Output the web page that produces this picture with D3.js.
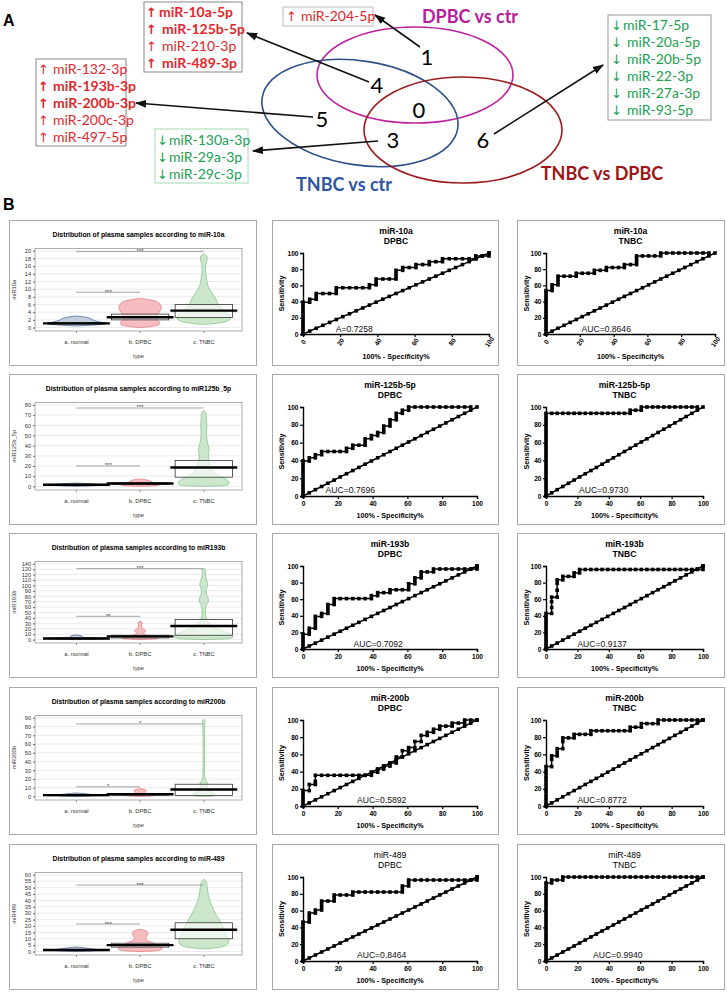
<!DOCTYPE html>
<html>
<head>
<meta charset="utf-8">
<script src="https://cdn.jsdelivr.net/npm/d3@7"></script>
<style>
  body { margin: 0; background: #fff; }
  svg { display: block; }
</style>
</head>
<body>
<svg id="fig"></svg>
<script>
// ---------------- data: panel A ----------------
const vennSets = ["DPBC vs ctr", "TNBC vs ctr", "TNBC vs DPBC"];
const vennCounts = [1, 4, 5, 0, 3, 6];

const region1Mirs = ["miR-204-5p"];
const region1Bold = [false];
const region4Mirs = ["miR-10a-5p", "miR-125b-5p", "miR-210-3p", "miR-489-3p"];
const region4Bold = [true, true, false, true];
const region5Mirs = ["miR-132-3p", "miR-193b-3p", "miR-200b-3p", "miR-200c-3p", "miR-497-5p"];
const region5Bold = [false, true, true, false, false];
const region3Mirs = ["miR-130a-3p", "miR-29a-3p", "miR-29c-3p"];
const region6Mirs = ["miR-17-5p", "miR-20a-5p", "miR-20b-5p", "miR-22-3p", "miR-27a-3p", "miR-93-5p"];

// ---------------- data: panel B, pirate plots ----------------
const groups = ["a. normal", "b. DPBC", "c. TNBC"];
const plotMirs = ["miR-10a", "miR125b_5p", "miR193b", "miR200b", "miR-489"];
const yLabels = ["miR10a", "miR125b_5p", "miR193b", "miR200b", "miR489"];
const yTickMax = [20, 80, 140, 90, 60];
const yTickStep = [2, 10, 10, 10, 5];

const groupMeans = [[1.1, 2.7, 4.4], [1.5, 2.8, 18.5], [2, 6, 25], [1.5, 2.5, 8], [1.2, 5, 17]];
const bandLow = [[0.9, 2.0, 2.6], [1.0, 2.0, 9], [1.5, 3, 8], [1.0, 1.5, 1], [0.9, 3.5, 10]];
const bandHigh = [[1.3, 3.5, 6.0], [2.0, 3.5, 25.5], [3, 8, 37], [2.0, 3, 14], [1.5, 6.5, 22.5]];

// significance bars: [normal vs DPBC, normal vs TNBC]
const sigLevel = [[9.2, 19.8], [20, 77], [43, 131], [11, 83], [21.5, 52]];
const sigStars = [["***", "***"], ["***", "***"], ["**", "***"], ["*", "*"], ["***", "***"]];

// bean outlines: [value, relative half width]
const bean10a = [
  [[0.4, 0], [0.7, 0.7], [1.0, 1.0], [1.4, 0.75], [1.9, 0.5], [2.4, 0.45], [2.8, 0.25], [3.0, 0]],
  [[0, 0], [0.3, 0.45], [0.8, 0.65], [1.5, 0.6], [2.5, 0.5], [3.5, 0.55], [4.5, 0.65], [5.5, 0.68], [6.5, 0.6], [7.2, 0.4], [7.6, 0]],
  [[0.8, 0], [1.2, 0.6], [2, 0.85], [3, 0.85], [4, 0.7], [5, 0.55], [6, 0.45], [7, 0.4], [8, 0.35], [9, 0.25], [10, 0.18], [11, 0.12], [12, 0.1], [13, 0.08], [14, 0.06], [15, 0.05], [16, 0.05], [17, 0.08], [18, 0.12], [18.8, 0.1], [19.2, 0]]
];
const bean125b = [
  [[0, 0], [0.5, 0.6], [1.2, 0.85], [2, 0.7], [2.8, 0.35], [3.2, 0]],
  [[0, 0], [0.5, 0.55], [1.5, 0.65], [2.5, 0.55], [3.5, 0.4], [4.5, 0.35], [5.5, 0.3], [6.5, 0.2], [7.2, 0]],
  [[0, 0], [0.5, 0.7], [2, 0.8], [4, 0.8], [6, 0.75], [8, 0.65], [10, 0.5], [12, 0.4], [15, 0.3], [18, 0.22], [22, 0.18], [26, 0.15], [30, 0.14], [34, 0.16], [37, 0.17], [40, 0.14], [45, 0.1], [50, 0.08], [55, 0.09], [60, 0.1], [65, 0.08], [70, 0.08], [73, 0.06], [74.5, 0]]
];
const bean193b = [
  [[0, 0], [1, 0.6], [2, 0.8], [3, 0.5], [4, 0.2], [5, 0.15], [6.5, 0.2], [7.5, 0.15], [8.5, 0]],
  [[0, 0], [1, 0.5], [2.5, 0.6], [4, 0.5], [6, 0.35], [8, 0.22], [10, 0.12], [12, 0.1], [14, 0.15], [16, 0.18], [18, 0.15], [20, 0.08], [24, 0.05], [28, 0.05], [31, 0.06], [33, 0.05], [34, 0]],
  [[0, 0], [1, 0.7], [3, 0.9], [6, 0.95], [10, 0.85], [15, 0.65], [20, 0.45], [25, 0.3], [30, 0.18], [35, 0.1], [40, 0.06], [50, 0.05], [60, 0.06], [66, 0.1], [72, 0.16], [76, 0.15], [82, 0.08], [90, 0.06], [96, 0.1], [102, 0.14], [108, 0.1], [115, 0.05], [125, 0.05], [130, 0.07], [131, 0]]
];
const bean200b = [
  [[0, 0], [0.5, 0.5], [1.5, 0.7], [2.5, 0.4], [3.5, 0.2], [4, 0]],
  [[0, 0], [0.5, 0.4], [1.5, 0.5], [2.5, 0.35], [3.5, 0.15], [4.5, 0.12], [5.5, 0.18], [6.5, 0.2], [7.5, 0.18], [8.5, 0.1], [9, 0]],
  [[0, 0], [0.5, 0.3], [2, 0.35], [4, 0.3], [7, 0.18], [10, 0.1], [13, 0.1], [15, 0.13], [17, 0.1], [20, 0.03], [30, 0.02], [80, 0.02], [85, 0.04], [87, 0.06], [88, 0]]
];
const bean489 = [
  [[0, 0], [0.5, 0.6], [1.2, 0.85], [2, 0.5], [3, 0.25], [3.6, 0]],
  [[0, 0], [0.5, 0.55], [1.5, 0.68], [3, 0.7], [4.5, 0.65], [6, 0.5], [7.5, 0.32], [9, 0.2], [10.5, 0.17], [12, 0.2], [13.5, 0.25], [15, 0.25], [16.5, 0.17], [17.5, 0]],
  [[2, 0], [3, 0.5], [5, 0.75], [8, 0.8], [11, 0.75], [14, 0.7], [17, 0.65], [20, 0.6], [24, 0.5], [28, 0.4], [32, 0.32], [36, 0.25], [40, 0.18], [44, 0.14], [48, 0.12], [52, 0.1], [55, 0.08], [56.5, 0]]
];
const beans = [bean10a, bean125b, bean193b, bean200b, bean489];

// ---------------- data: panel B, ROC curves ----------------
const rocMirs = ["miR-10a", "miR-125b-5p", "miR-193b", "miR-200b", "miR-489"];
const rocGroups = ["DPBC", "TNBC"];
const aucLabels = [["A=0.7258", "AUC=0.8646"], ["AUC=0.7696", "AUC=0.9730"], ["AUC=0.7092", "AUC=0.9137"],
                   ["AUC=0.5892", "AUC=0.8772"], ["AUC=0.8464", "AUC=0.9940"]];
const rocTicks = [0, 20, 40, 60, 80, 100];

// line of identity markers (100% - specificity %)
const diagPct = [0, 3.6, 7.1, 10.7, 14.3, 17.9, 21.4, 25, 28.6, 32.1, 35.7, 39.3, 42.9, 46.4, 50,
                 53.6, 57.1, 60.7, 64.3, 67.9, 71.4, 75, 78.6, 82.1, 85.7, 89.3, 92.9, 96.4, 100];

// each row: [100% - specificity, sensitivity values at that x ...]
const roc10aDPBC = [
  [0, 0, 3.6, 7.1, 10.7, 14.3, 17.9, 21.4, 25, 28.6, 32.1, 35.7, 39.3],
  [3.6, 39.3, 42.9], [7.1, 42.9, 46.4, 50], [10.7, 50], [14.3, 50], [17.9, 50, 53.6, 57.1],
  [21.4, 57.1], [25, 57.1], [28.6, 57.1], [32.1, 57.1], [35.7, 57.1, 60.7], [39.3, 60.7, 64.3, 67.9],
  [42.9, 67.9], [46.4, 67.9], [50, 67.9, 71.4, 75, 78.6], [53.6, 78.6, 82.1], [57.1, 82.1],
  [60.7, 82.1, 85.7], [64.3, 85.7], [67.9, 85.7, 89.3], [71.4, 89.3], [75, 89.3, 92.9], [78.6, 92.9],
  [82.1, 92.9], [85.7, 92.9], [89.3, 92.9], [92.9, 92.9, 96.4], [96.4, 96.4], [100, 96.4, 100]
];
const roc10aTNBC = [
  [0, 0, 3.6, 7.1, 10.7, 14.3, 17.9, 21.4, 25, 28.6, 32.1, 35.7, 39.3, 42.9, 46.4, 50, 53.6],
  [3.6, 53.6, 57.1, 60.7], [7.1, 60.7, 64.3, 67.9, 71.4], [10.7, 71.4], [14.3, 71.4], [17.9, 71.4, 75],
  [21.4, 75], [25, 75], [28.6, 75, 78.6], [32.1, 78.6], [35.7, 78.6, 82.1], [39.3, 82.1], [42.9, 82.1],
  [46.4, 82.1, 85.7], [50, 85.7], [53.6, 85.7, 89.3, 92.9, 96.4], [57.1, 96.4], [60.7, 96.4], [64.3, 96.4],
  [67.9, 96.4, 100], [71.4, 100], [75, 100], [78.6, 100], [82.1, 100], [85.7, 100], [89.3, 100],
  [92.9, 100], [96.4, 100]
];
const roc125bDPBC = [
  [0, 0, 3.6, 7.1, 10.7, 14.3, 17.9, 21.4, 25, 28.6, 32.1, 35.7, 39.3],
  [3.6, 39.3, 42.9], [7.1, 42.9, 46.4], [10.7, 46.4, 50], [14.3, 50], [17.9, 50], [21.4, 50],
  [25, 50, 53.6], [28.6, 53.6, 57.1], [32.1, 57.1], [35.7, 57.1, 60.7, 64.3], [39.3, 64.3, 67.9],
  [42.9, 67.9, 71.4], [46.4, 71.4, 75, 78.6], [50, 78.6, 82.1, 85.7], [53.6, 85.7, 89.3, 92.9],
  [57.1, 92.9, 96.4], [60.7, 96.4, 100], [64.3, 100], [67.9, 100], [71.4, 100], [75, 100], [78.6, 100],
  [82.1, 100], [85.7, 100], [89.3, 100], [92.9, 100], [96.4, 100]
];
const roc125bTNBC = [
  [0, 0, 3.6, 7.1, 10.7, 14.3, 17.9, 21.4, 25, 28.6, 32.1, 35.7, 39.3, 42.9, 46.4, 50, 53.6, 57.1,
   60.7, 64.3, 67.9, 71.4, 75, 78.6, 82.1, 85.7, 89.3, 92.9],
  [3.6, 92.9], [7.1, 92.9], [10.7, 92.9], [14.3, 92.9], [17.9, 92.9], [21.4, 92.9], [25, 92.9],
  [28.6, 92.9], [32.1, 92.9], [35.7, 92.9], [39.3, 92.9], [42.9, 92.9], [46.4, 92.9], [50, 92.9],
  [53.6, 92.9, 96.4], [57.1, 96.4], [60.7, 96.4, 100], [64.3, 100], [67.9, 100], [71.4, 100], [75, 100],
  [78.6, 100], [82.1, 100], [85.7, 100], [89.3, 100], [92.9, 100], [96.4, 100]
];
const roc193bDPBC = [
  [0, 0, 3.6, 7.1, 10.7, 14.3, 17.9], [3.6, 17.9, 21.4, 25], [7.1, 25, 28.6, 32.1, 35.7, 39.3],
  [10.7, 39.3, 42.9], [14.3, 42.9, 46.4, 50, 53.6], [17.9, 53.6, 57.1, 60.7], [21.4, 60.7], [25, 60.7],
  [28.6, 60.7], [32.1, 60.7], [35.7, 60.7], [39.3, 60.7, 64.3], [42.9, 64.3, 67.9], [46.4, 67.9],
  [50, 67.9, 71.4], [53.6, 71.4], [57.1, 71.4], [60.7, 71.4, 75, 78.6], [64.3, 78.6, 82.1, 85.7],
  [67.9, 85.7, 89.3, 92.9], [71.4, 92.9], [75, 92.9, 96.4], [78.6, 96.4], [82.1, 96.4], [85.7, 96.4],
  [89.3, 96.4], [92.9, 96.4], [96.4, 96.4], [100, 96.4, 100]
];
const roc193bTNBC = [
  [0, 0, 3.6, 7.1, 10.7, 14.3, 17.9, 21.4, 25, 28.6, 32.1, 35.7, 39.3, 42.9],
  [3.6, 42.9, 50, 57.1, 62.5], [7.1, 62.5, 70.8, 79.2, 83.3], [10.7, 83.3, 87.5], [14.3, 87.5],
  [17.9, 87.5, 91.7], [21.4, 91.7, 95.8], [25, 95.8], [28.6, 95.8], [32.1, 95.8], [35.7, 95.8],
  [39.3, 95.8], [42.9, 95.8], [46.4, 95.8], [50, 95.8], [53.6, 95.8], [57.1, 95.8], [60.7, 95.8],
  [64.3, 95.8], [67.9, 95.8], [71.4, 95.8], [75, 95.8], [78.6, 95.8], [82.1, 95.8], [85.7, 95.8],
  [89.3, 95.8], [92.9, 95.8], [96.4, 95.8], [100, 95.8, 100]
];
const roc200bDPBC = [
  [0, 0, 3.6, 7.1, 10.7, 14.3, 17.9], [3.6, 17.9, 25], [7.1, 25, 28.6, 35.7], [10.7, 35.7], [14.3, 35.7],
  [17.9, 35.7], [21.4, 35.7], [25, 35.7], [28.6, 35.7], [32.1, 35.7], [35.7, 35.7], [39.3, 35.7, 39.3],
  [42.9, 39.3, 42.9], [46.4, 42.9, 46.4], [50, 46.4, 50], [53.6, 50, 53.6, 57.1], [57.1, 57.1, 64.3],
  [60.7, 64.3, 67.9], [64.3, 67.9, 75], [67.9, 75, 82.1], [71.4, 82.1, 85.7], [75, 85.7, 89.3],
  [78.6, 89.3, 92.9], [82.1, 92.9], [85.7, 92.9, 96.4], [89.3, 96.4], [92.9, 96.4, 100], [96.4, 100], [100, 100]
];
const roc200bTNBC = [
  [0, 0, 4.2, 8.3, 12.5, 16.7, 20.8, 25, 29.2, 33.3, 37.5, 41.7, 45.8], [3.6, 45.8, 54.2, 58.3],
  [7.1, 58.3, 62.5, 66.7], [10.7, 66.7, 75, 79.2], [14.3, 79.2], [17.9, 79.2, 83.3], [21.4, 83.3],
  [25, 83.3], [28.6, 83.3, 87.5], [32.1, 87.5], [35.7, 87.5], [39.3, 87.5], [42.9, 87.5], [46.4, 87.5],
  [50, 87.5], [53.6, 87.5, 91.7], [57.1, 91.7], [60.7, 91.7, 95.8], [64.3, 95.8], [67.9, 95.8],
  [71.4, 95.8, 100], [75, 100], [78.6, 100], [82.1, 100], [85.7, 100], [89.3, 100], [92.9, 100],
  [96.4, 100], [100, 100]
];
const roc489DPBC = [
  [0, 0, 3.6, 7.1, 10.7, 14.3, 17.9, 21.4, 25, 28.6, 32.1, 35.7, 39.3, 42.9, 46.4],
  [3.6, 46.4, 50, 53.6, 57.1], [7.1, 57.1, 60.7], [10.7, 60.7, 64.3, 67.9, 71.4], [14.3, 71.4],
  [17.9, 71.4, 75, 78.6], [21.4, 78.6], [25, 78.6], [28.6, 78.6, 82.1], [32.1, 82.1], [35.7, 82.1],
  [39.3, 82.1], [42.9, 82.1], [46.4, 82.1], [50, 82.1], [53.6, 82.1], [57.1, 82.1, 85.7, 89.3],
  [60.7, 89.3, 92.9, 96.4], [64.3, 96.4], [67.9, 96.4], [71.4, 96.4], [75, 96.4], [78.6, 96.4],
  [82.1, 96.4], [85.7, 96.4], [89.3, 96.4], [92.9, 96.4], [96.4, 96.4], [100, 96.4, 100]
];
const roc489TNBC = [
  [0, 0, 3.6, 7.1, 10.7, 14.3, 17.9, 21.4, 25, 28.6, 32.1, 35.7, 39.3, 42.9, 46.4, 50, 53.6, 57.1,
   60.7, 64.3, 67.9, 71.4, 75, 78.6, 82.1, 85.7, 89.3, 92.9],
  [3.6, 92.9, 96.4], [7.1, 96.4], [10.7, 96.4, 100], [14.3, 100], [17.9, 100], [21.4, 100], [25, 100],
  [28.6, 100], [32.1, 100], [35.7, 100], [39.3, 100], [42.9, 100], [46.4, 100], [50, 100], [53.6, 100],
  [57.1, 100], [60.7, 100], [64.3, 100], [67.9, 100], [71.4, 100], [75, 100], [78.6, 100], [82.1, 100],
  [85.7, 100], [89.3, 100], [92.9, 100], [96.4, 100], [100, 100]
];
const rocCurves = [
  [roc10aDPBC, roc10aTNBC], [roc125bDPBC, roc125bTNBC], [roc193bDPBC, roc193bTNBC],
  [roc200bDPBC, roc200bTNBC], [roc489DPBC, roc489TNBC]
];

// ---------------- layout ----------------
const W = 727, H = 992;
const arial = "'Liberation Sans', Arial, sans-serif";
const calibri = "Lato, 'Open Sans', sans-serif";
const red = "#e3262b", green = "#20a050";

const svg = d3.select("#fig").attr("width", W).attr("height", H);
svg.append("rect").attr("width", W).attr("height", H).attr("fill", "#fff");

svg.append("text").attr("x", 3).attr("y", 26).text("A")
  .style("font", `bold 16px ${arial}`);
svg.append("text").attr("x", 3).attr("y", 210).text("B")
  .style("font", `bold 16px ${arial}`);

// ---------------- panel A: Venn ----------------
const venn = svg.append("g");
const ellipses = [
  { cx: 415, cy: 75, rx: 98, ry: 48, rot: 0, color: "#c0229f" },
  { cx: 360, cy: 113, rx: 99, ry: 52, rot: 9, color: "#2c5088" },
  { cx: 463, cy: 130, rx: 99, ry: 53, rot: 0, color: "#9b1b1e" }
];
venn.selectAll("ellipse").data(ellipses).join("ellipse")
  .attr("transform", d => `translate(${d.cx},${d.cy}) rotate(${d.rot})`)
  .attr("rx", d => d.rx).attr("ry", d => d.ry)
  .attr("fill", "none").attr("stroke", d => d.color).attr("stroke-width", 1.6);

const setLabelPos = [[470, 23, "#b3219b"], [344, 191, "#2e56a3"], [602, 180, "#a01417"]];
venn.selectAll("text.set").data(vennSets).join("text").attr("class", "set")
  .attr("x", (d, i) => setLabelPos[i][0]).attr("y", (d, i) => setLabelPos[i][1])
  .attr("text-anchor", "middle").attr("fill", (d, i) => setLabelPos[i][2])
  .style("font", `bold 18px ${calibri}`).text(d => d);

const countPos = [[427, 65], [377, 93], [322, 127], [419, 118], [393, 148], [483, 148]];
venn.selectAll("text.cnt").data(vennCounts).join("text").attr("class", "cnt")
  .attr("x", (d, i) => countPos[i][0]).attr("y", (d, i) => countPos[i][1])
  .attr("text-anchor", "middle").style("font", `22px ${calibri}`).text(d => d);

// arrows from counts to lists
svg.append("defs").append("marker").attr("id", "ah")
  .attr("viewBox", "0 0 10 10").attr("refX", 9).attr("refY", 5)
  .attr("markerWidth", 7).attr("markerHeight", 7).attr("orient", "auto")
  .append("path").attr("d", "M0,1.5L10,5L0,8.5Z").attr("fill", "#111");
const arrows = [[420, 47, 375, 15], [369, 82, 247, 33], [313, 117, 136, 103], [378, 141, 253, 151], [494, 134, 603, 65]];
venn.selectAll("line.arr").data(arrows).join("line").attr("class", "arr")
  .attr("x1", d => d[0]).attr("y1", d => d[1]).attr("x2", d => d[2]).attr("y2", d => d[3])
  .attr("stroke", "#111").attr("stroke-width", 1.6).attr("marker-end", "url(#ah)");

function listBox(box, mirs, bolds, up) {
  const g = svg.append("g");
  g.append("rect").attr("x", box.x).attr("y", box.y).attr("width", box.w).attr("height", box.h)
    .attr("fill", "#fff").attr("stroke", box.border).attr("stroke-width", 1);
  const color = up ? red : green;
  mirs.forEach((m, i) => {
    const yy = box.base + i * box.lh;
    const b = bolds && bolds[i];
    g.append("text").attr("x", box.x + box.ax).attr("y", yy).attr("fill", color)
      .style("font", `${b ? "bold " : ""}13px 'DejaVu Sans', sans-serif`).text(up ? "\u2191" : "\u2193");
    g.append("text").attr("x", box.x + box.tx + (i === 0 ? box.first : 0)).attr("y", yy).attr("fill", color)
      .style("font", `${b ? "bold " : ""}14px ${calibri}`).text(m);
  });
}
listBox({ x: 283, y: 7, w: 90, h: 19, base: 21, lh: 17, ax: 3, tx: 18, first: 0, border: "#bbb" }, region1Mirs, region1Bold, true);
listBox({ x: 144, y: 2, w: 98, h: 70, base: 17, lh: 17, ax: 2, tx: 18, first: -3, border: "#888" }, region4Mirs, region4Bold, true);
listBox({ x: 36, y: 59, w: 90, h: 87, base: 74, lh: 17, ax: 2, tx: 17, first: 0, border: "#888" }, region5Mirs, region5Bold, true);
listBox({ x: 155, y: 129, w: 93, h: 54, base: 145, lh: 17, ax: 2, tx: 14, first: 0, border: "#a6dcb0" }, region3Mirs, null, false);
listBox({ x: 608, y: 15, w: 103, h: 105, base: 30, lh: 17, ax: 3, tx: 19, first: -4, border: "#999" }, region6Mirs, null, false);

// ---------------- panel B ----------------
const rowTops = [220, 374, 533, 687, 844];
const rowBottoms = [365, 524, 677, 834, 989];
const colX = [[9, 256], [272, 498], [517, 724]];
const beanFill = ["#b8c5db", "#f4b2b6", "#c3e3c3"];
const beanStroke = ["#3d5a88", "#e0737a", "#7fbd83"];

function panelFrame(c, i) {
  svg.append("rect").attr("x", colX[c][0] + 0.5).attr("y", rowTops[i] + 0.5)
    .attr("width", colX[c][1] - colX[c][0]).attr("height", rowBottoms[i] - rowTops[i])
    .attr("fill", "#fff").attr("stroke", "#a8a8a8").attr("stroke-width", 1);
}

function drawPirate(i) {
  panelFrame(0, i);
  const g = svg.append("g");
  const px = colX[0][0], top = rowTops[i], bot = rowBottoms[i];
  const L = px + 26, R = px + 233, T = top + 28.5, B = bot - 34;
  const M = yTickMax[i];
  const y = d3.scaleLinear().domain([-0.045 * M, 1.03 * M]).range([B, T]);
  const x = d3.scaleLinear().domain([0.35, 3.6]).range([L, R]);
  const ticks = d3.range(0, M + 1e-9, yTickStep[i]);
  const hw = (x(2) - x(1)) * 0.5;

  g.append("text").attr("x", (L + R) / 2).attr("y", top + 17).attr("text-anchor", "middle")
    .style("font", `bold 6.8px ${arial}`).text(`Distribution of plasma samples according to ${plotMirs[i]}`);

  g.selectAll("line.grid").data(ticks).join("line").attr("class", "grid")
    .attr("x1", L).attr("x2", R).attr("y1", d => y(d)).attr("y2", d => y(d))
    .attr("stroke", "#e6e6e6").attr("stroke-width", 0.8);

  beans[i].forEach((prof, k) => {
    const cx = x(k + 1);
    const area = d3.area().curve(d3.curveBasis)
      .y(d => y(d[0])).x0(d => cx - d[1] * hw).x1(d => cx + d[1] * hw);
    g.append("path").attr("d", area(prof)).attr("fill", beanFill[k]).attr("fill-opacity", 0.85)
      .attr("stroke", beanStroke[k]).attr("stroke-width", 0.7);
  });

  groups.forEach((grp, k) => {
    const cx = x(k + 1);
    g.append("rect").attr("x", cx - 0.9 * hw).attr("y", y(bandHigh[i][k]))
      .attr("width", 1.8 * hw).attr("height", Math.max(1, y(bandLow[i][k]) - y(bandHigh[i][k])))
      .attr("fill", "#fff").attr("fill-opacity", 0.6).attr("stroke", "#333").attr("stroke-width", 0.8);
    g.append("line").attr("x1", cx - hw * 1.05).attr("x2", cx + hw * 1.05)
      .attr("y1", y(groupMeans[i][k])).attr("y2", y(groupMeans[i][k]))
      .attr("stroke", "#000").attr("stroke-width", 2.4);
  });

  // significance bars
  const sigSpan = [[x(1) - 0.1, x(2) + 0.1], [x(1), x(3)]];
  sigLevel[i].forEach((lv, s) => {
    const [a, b] = sigSpan[s];
    g.append("line").attr("x1", a).attr("x2", b).attr("y1", y(lv)).attr("y2", y(lv))
      .attr("stroke", "#999").attr("stroke-width", 0.9);
    g.append("text").attr("x", (a + b) / 2).attr("y", y(lv) + 1.5).attr("text-anchor", "middle")
      .style("font", `6px ${arial}`).attr("fill", "#444").text(sigStars[i][s]);
  });

  g.append("rect").attr("x", L).attr("y", T).attr("width", R - L).attr("height", B - T)
    .attr("fill", "none").attr("stroke", "#9a9a9a").attr("stroke-width", 0.8);

  const ax = g.append("g").attr("transform", `translate(${L},0)`)
    .call(d3.axisLeft(y).tickValues(ticks).tickSize(2).tickPadding(2));
  ax.select(".domain").remove();
  ax.selectAll("line").attr("stroke", "#666");
  ax.selectAll("text").style("font", `5.6px ${arial}`).attr("fill", "#333");

  groups.forEach((grp, k) => {
    g.append("line").attr("x1", x(k + 1)).attr("x2", x(k + 1)).attr("y1", B).attr("y2", B + 2)
      .attr("stroke", "#666").attr("stroke-width", 0.7);
    g.append("text").attr("x", x(k + 1)).attr("y", B + 13).attr("text-anchor", "middle")
      .style("font", `5.8px ${arial}`).attr("fill", "#333").text(grp);
  });
  g.append("text").attr("x", (L + R) / 2).attr("y", B + 27).attr("text-anchor", "middle")
    .style("font", `5.8px ${arial}`).attr("fill", "#333").text("type");
  g.append("text").attr("transform", `translate(${px + 7},${(T + B) / 2}) rotate(-90)`)
    .attr("text-anchor", "middle").style("font", `5.8px ${arial}`).attr("fill", "#333").text(yLabels[i]);
}

const aucStart = [[17.6, 21], [13, 21], [29, 20], [31, 20], [31, 30]];

function drawRoc(i, c) {
  panelFrame(c, i);
  const g = svg.append("g");
  const [px0, px1] = colX[c];
  const top = rowTops[i], bot = rowBottoms[i];
  const L = px0 + (c === 1 ? 31 : 29);
  const R = i === 0 ? px1 - 9 : px1 - 21;
  const T = top + 33, B = i === 0 ? bot - 31 : bot - 28;
  const x = d3.scaleLinear().domain([0, 100]).range([L, R]);
  const y = d3.scaleLinear().domain([0, 100]).range([B, T]);
  const bold = i < 4 ? "bold " : "";

  g.append("text").attr("x", (L + R) / 2).attr("y", top + 14).attr("text-anchor", "middle")
    .style("font", `${bold}8.6px ${arial}`).text(rocMirs[i]);
  g.append("text").attr("x", (L + R) / 2).attr("y", top + 23.5).attr("text-anchor", "middle")
    .style("font", `${bold}8.6px ${arial}`).text(rocGroups[c - 1]);

  const xa = g.append("g").attr("transform", `translate(0,${B})`)
    .call(d3.axisBottom(x).tickValues(rocTicks).tickSize(3).tickPadding(2));
  const ya = g.append("g").attr("transform", `translate(${L},0)`)
    .call(d3.axisLeft(y).tickValues(rocTicks).tickSize(3).tickPadding(1.5));
  [xa, ya].forEach(a => {
    a.select(".domain").attr("stroke", "#000").attr("stroke-width", 1.4);
    a.selectAll(".tick line").attr("stroke", "#000").attr("stroke-width", 1.2);
    a.selectAll("text").style("font", `bold 6.6px ${arial}`).attr("fill", "#000");
  });
  if (i === 0) {
    xa.selectAll("text").attr("y", 0).attr("dy", "0.35em")
      .attr("transform", "translate(0,8) rotate(-55)").style("text-anchor", "middle");
  }
  g.append("text").attr("x", (L + R) / 2).attr("y", bot - 6.5).attr("text-anchor", "middle")
    .style("font", `bold 7.2px ${arial}`).text("100% - Specificity%");
  g.append("text").attr("transform", `translate(${px0 + 12},${(T + B) / 2}) rotate(-90)`)
    .attr("text-anchor", "middle").style("font", `bold 7.2px ${arial}`).text("Sensitivity");

  const line = d3.line().x(d => x(d[0])).y(d => y(d[1]));
  const diag = diagPct.map(v => [v, v]);
  const curve = rocCurves[i][c - 1].flatMap(([fx, ...ys]) => ys.map(v => [fx, v]));
  [diag, curve].forEach(pts => {
    g.append("path").attr("d", line(pts)).attr("fill", "none").attr("stroke", "#000").attr("stroke-width", 1.5);
    g.selectAll(null).data(pts).join("rect")
      .attr("x", d => x(d[0]) - 1.8).attr("y", d => y(d[1]) - 1.8)
      .attr("width", 3.6).attr("height", 3.6).attr("fill", "#000");
  });

  g.append("text").attr("x", x(aucStart[i][c - 1])).attr("y", y(3))
    .style("font", `8.6px ${arial}`).attr("fill", "#111").text(aucLabels[i][c - 1]);
}

for (let i = 0; i < 5; i++) {
  drawPirate(i);
  drawRoc(i, 1);
  drawRoc(i, 2);
}
</script>
</body>
</html>
